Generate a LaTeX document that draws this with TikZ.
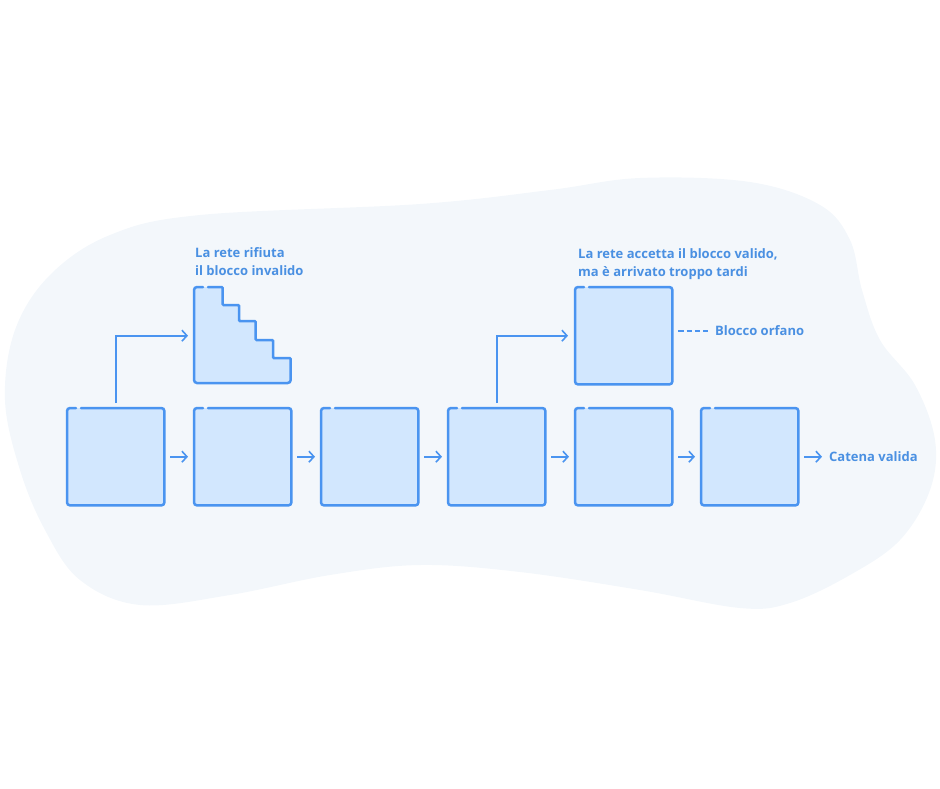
\documentclass[tikz,border=0pt]{standalone}
\usepackage{fontspec}
\setmainfont{Open Sans}
\usetikzlibrary{arrows.meta}
\definecolor{bl}{RGB}{74,148,240}
\definecolor{blfill}{RGB}{210,231,254}
\definecolor{blobc}{RGB}{243,247,251}
\definecolor{txt}{RGB}{74,144,226}
\tikzset{
 blk/.style={rectangle, fill=blfill, minimum width=97pt, minimum height=97pt, inner sep=0pt, anchor=north west},
 blkedge/.style={draw=bl, line width=2.5pt, rounded corners=3pt, line cap=round},
 conn/.style={draw=bl, line width=1.6pt, -{Straight Barb[length=5pt,width=11pt]}},
 dashln/.style={draw=bl, line width=1.6pt, dash pattern=on 5.5pt off 2.7pt},
 lbl/.style={text=txt, font=\fontsize{13}{15}\selectfont\bfseries, inner sep=0pt, anchor=base west},
}
\newcommand\blkoutline[1]{\draw[blkedge] ([xshift=14pt]#1.north west) -- (#1.north east) -- (#1.south east) -- (#1.south west) -- (#1.north west) -- ([xshift=9pt]#1.north west);}
\begin{document}
\begin{tikzpicture}[x=1pt,y=-1pt]
\useasboundingbox (0,0) rectangle (940,788);
% background blob
\fill[blobc] plot[smooth cycle, tension=0.6] coordinates {
 (200,215) (420,204) (550,190) (640,178) (750,182) (820,205) (850,240) (862,290)
 (880,340) (915,385) (935,440) (930,490) (900,540) (850,575) (790,603) (740,608)
 (640,590) (520,572) (420,565) (330,575) (230,595) (140,605) (80,580) (45,530)
 (20,470) (5,400) (15,330) (50,275) (110,235)};
% chain blocks
\foreach \i/\x in {1/67,2/194,3/321,4/448,5/575,6/701}{
 \node[blk] (b\i) at (\x,408) {};
 \blkoutline{b\i}
}
% orphan block
\node[blk] (o1) at (575,287) {};
\blkoutline{o1}
% invalid (stair) block
\node[blk, fill=none] (s1) at (194,287) {};
\begin{scope}[shift={(s1.north west)}]
 \fill[blfill] (0,0) -- (28.7,0) -- (28.7,18) -- (45,18) -- (45,34) -- (61.7,34) -- (61.7,53) -- (79,53) -- (79,71) -- (96.7,71) -- (96.7,96) -- (0,96) -- cycle;
 \draw[blkedge] (14,0) [rounded corners=1pt] -- (28.7,0) -- (28.7,18) -- (45,18) -- (45,34) -- (61.7,34) -- (61.7,53) -- (79,53) -- (79,71) -- (96.7,71) [rounded corners=3pt] -- (96.7,96) -- (0,96) -- (0,0) -- (9,0);
\end{scope}
% chain arrows
\foreach \a/\b in {1/2,2/3,3/4,4/5,5/6}{
 \draw[conn] ([xshift=6pt]b\a.east) -- ([xshift=-6pt]b\b.west);
}
% branch arrows
\draw[conn] ([yshift=5pt]b1.north) |- ([xshift=-6pt]s1.west);
\draw[conn] ([yshift=5pt]b4.north) |- ([xshift=-7pt]o1.west);
% labels
\node[lbl] (r1) at (195,257.7) {La rete rifiuta};
\node[lbl] (r2) at (195,275.5) {il blocco invalido};
\node[lbl] (a1) at (578,258.3) {La rete accetta il blocco valido,};
\node[lbl] (a2) at (578,276) {ma è arrivato troppo tardi};
\node[lbl] (bo) at (715,335.7) {Blocco orfano};
\node[lbl] (cv) at (829,461) {Catena valida};
\draw[dashln] ([xshift=6pt]o1.east |- bo.west) -- ([xshift=-7pt]bo.west);
\draw[conn] ([xshift=6pt]b6.east) -- ([xshift=-7pt]b6.east -| cv.west);
\end{tikzpicture}
\end{document}
